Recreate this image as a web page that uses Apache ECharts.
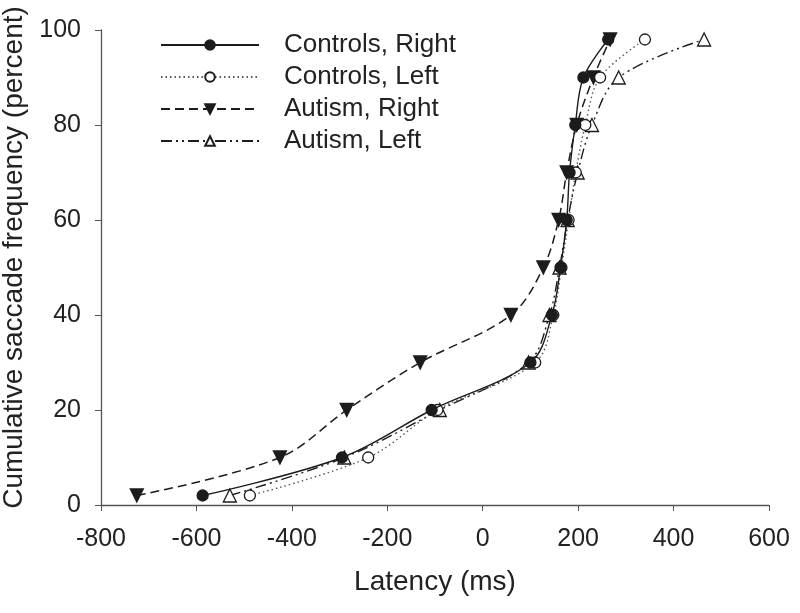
<!DOCTYPE html>
<html><head><meta charset="utf-8">
<script src="https://cdn.jsdelivr.net/npm/echarts@6/dist/echarts.min.js"></script>
<style>html,body{margin:0;padding:0;background:#fff}#c{width:800px;height:613px}</style>
</head><body><div id="c"></div>
<script>
const yPct = [2, 10, 20, 30, 40, 50, 60, 70, 80, 90, 98];
const controlsRightX = [-587, -295, -107, 100, 145, 163, 176, 182, 194, 211, 263];
const controlsLeftX  = [-488, -240, -95, 110, 148, 165, 180, 195, 215, 246, 340];
const autismRightX   = [-725, -425, -285, -131, 59, 127, 159, 176, 197, 232, 267];
const autismLeftX    = [-530, -290, -90, 96, 140, 161, 178, 199, 229, 285, 464];
const seriesNames = ['Controls, Right', 'Controls, Left', 'Autism, Right', 'Autism, Left'];
const xTicks = [-800, -600, -400, -200, 0, 200, 400, 600];

const pts = xs => xs.map((x, i) => [x, yPct[i]]);
const ink = '#1c1c1c';
const font = 'Liberation Sans, Arial, sans-serif';

const defs = [
  {x: controlsRightX, symbol: 'circle', fill: ink, type: 'solid', width: 1.4, rot: 0},
  {x: controlsLeftX, symbol: 'circle', fill: '#fff', type: [1.5, 3], width: 1.4, rot: 0, lc: '#555'},
  {x: autismRightX, symbol: 'triangle', fill: ink, type: [9, 5], width: 1.5, rot: 180},
  {x: autismLeftX, symbol: 'triangle', fill: '#fff', type: [11, 4, 2, 4, 2, 4], width: 1.4, rot: 0}
];

const chart = echarts.init(document.getElementById('c'));
chart.setOption({
  animation: false,
  backgroundColor: '#fff',
  grid: {left: 101, right: 31, top: 30, bottom: 108, containLabel: false, outerBoundsMode: 'none'},
  legend: {
    orient: 'vertical', left: 155, top: 27,
    itemWidth: 98, itemHeight: 12, itemGap: 6,
    textStyle: {fontFamily: font, fontSize: 26, color: '#222', padding: [0, 0, 0, 20]},
    data: seriesNames
  },
  xAxis: {
    type: 'value', min: -800, max: 600, interval: 200,
    name: 'Latency (ms)', nameLocation: 'middle', nameGap: 63,
    nameTextStyle: {fontFamily: font, fontSize: 28, color: '#222'},
    axisLine: {lineStyle: {color: '#555', width: 1.3}},
    axisTick: {show: true, length: 6, lineStyle: {color: '#555'}},
    axisLabel: {fontFamily: font, fontSize: 25, color: '#222', margin: 22,
      formatter: v => xTicks.includes(v) ? String(v) : ''},
    splitLine: {show: false}
  },
  yAxis: {
    type: 'value', min: 0, max: 100, interval: 20,
    name: 'Cumulative saccade frequency (percent)', nameLocation: 'middle', nameGap: 61,
    nameTextStyle: {fontFamily: font, fontSize: 28, color: '#222', padding: [0, 0, 0, 20]},
    axisLine: {show: true, onZero: false, lineStyle: {color: '#555', width: 1.3}},
    axisTick: {show: true, length: 6, lineStyle: {color: '#555'}},
    axisLabel: {fontFamily: font, fontSize: 25, color: '#222', margin: 20},
    splitLine: {show: false}
  },
  series: defs.map((d, i) => ({
    name: seriesNames[i], type: 'line', data: pts(d.x),
    smooth: 0.35,
    symbol: d.symbol, symbolSize: d.symbol === 'triangle' ? 13 : 11,
    symbolRotate: d.rot,
    itemStyle: {color: d.fill, borderColor: ink, borderWidth: 1.3},
    lineStyle: {color: d.lc || ink, width: d.width, type: d.type},
    z: 10 - i
  }))
});
</script></body></html>
